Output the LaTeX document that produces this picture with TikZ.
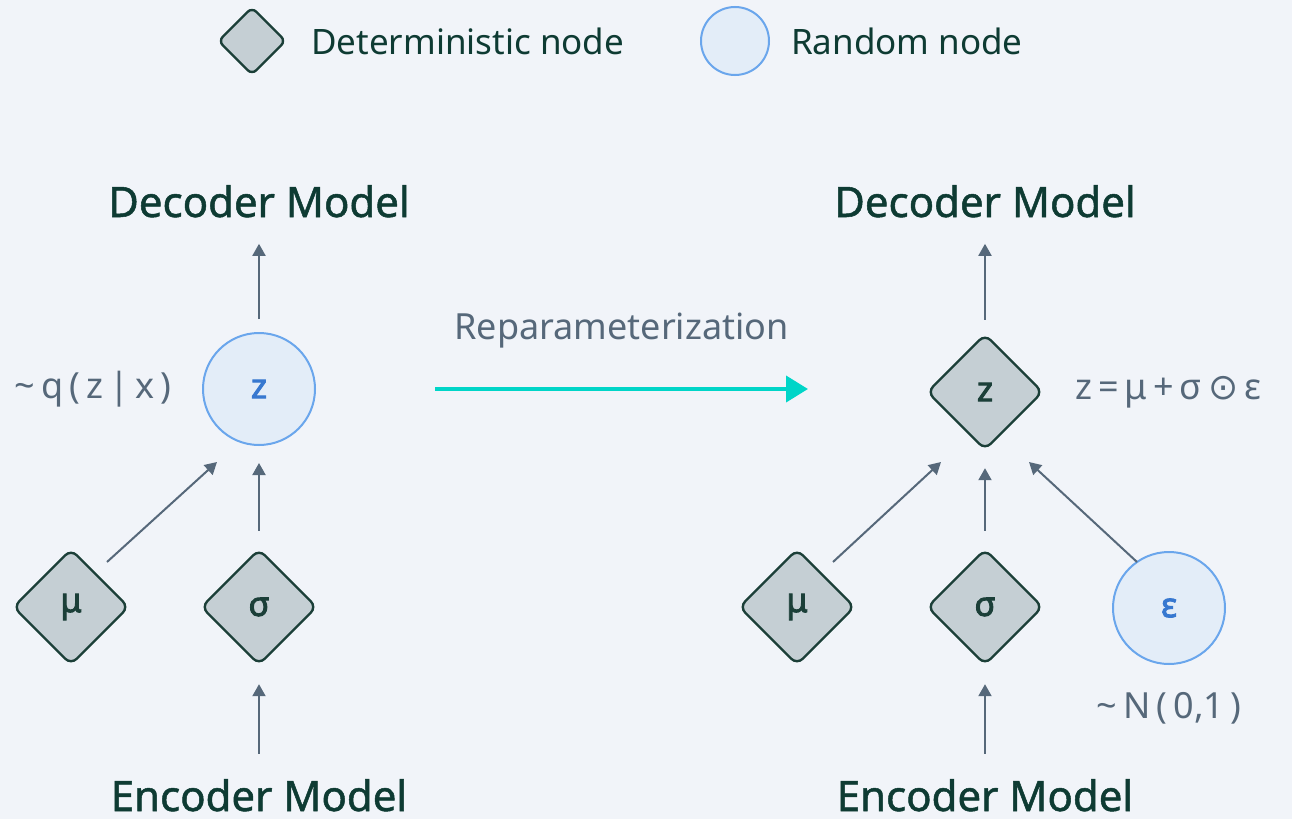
\documentclass[tikz,border=0pt]{standalone}
\usepackage{fontspec}
\setmainfont{Noto Sans}
\newfontfamily\medfont{Noto Sans}[FakeBold=1.2]
\newfontfamily\heavyfont{Noto Sans}[FakeBold=2.8]
\newfontfamily\symbolfont{DejaVu Sans}
\usetikzlibrary{positioning, arrows.meta, shapes.geometric}

\definecolor{bgcol}{HTML}{F1F4F9}
\definecolor{detfill}{HTML}{C5CFD4}
\definecolor{detline}{HTML}{1B3F38}
\definecolor{randfill}{HTML}{E3EDF8}
\definecolor{randline}{HTML}{6AA6EC}
\definecolor{randtext}{HTML}{3778D0}
\definecolor{titlecol}{HTML}{0E3B33}
\definecolor{graycol}{HTML}{56687A}
\definecolor{tealcol}{HTML}{00D5C8}

\tikzset{
  detnode/.style={diamond, aspect=1, draw=detline, fill=detfill, line width=1.2pt,
    rounded corners=4pt, minimum size=58pt, inner sep=0pt, text=detline,
    font=\heavyfont\fontsize{17}{17}\selectfont},
  randnode/.style={circle, draw=randline, fill=randfill, line width=1pt,
    minimum size=56pt, inner sep=0pt, text=randtext,
    font=\heavyfont\fontsize{17}{17}\selectfont},
  legtext/.style={text=titlecol, font=\fontsize{17.5}{20}\selectfont},
  modeltext/.style={text=titlecol, anchor=base, inner sep=0pt,
    font=\medfont\fontsize{21}{24}\selectfont},
  notetext/.style={text=graycol, font=\fontsize{18}{21}\selectfont},
  feed/.style={-{Triangle[length=6pt, width=6.5pt]}, graycol, line width=1pt},
  reparam/.style={-{Triangle[length=11pt, width=13pt]}, tealcol, line width=2pt}
}

\begin{document}
\begin{tikzpicture}[x=0.5pt, y=-0.5pt]

  % Background and page size.
  \fill[bgcol] (0,0) rectangle (1292,819);
  \useasboundingbox (0,0) rectangle (1292,819);

  % Legend.
  \node[detnode, minimum size=34pt, rounded corners=3pt] (legdet) at (252,41) {};
  \node[legtext, right=8.5pt of legdet] (legdettext) {Deterministic node};
  \node[randnode, minimum size=34pt] (legrand) at (735,41) {};
  \node[legtext, right=7pt of legrand] (legrandtext) {Random node};

  % Left: sampling z directly.
  \node[modeltext] (decl) at (259,217) {Decoder Model};
  \node[randnode] (zl) at (259,389) {z};
  \node[notetext, left=12pt of zl] (ql) {\textasciitilde\,q\,(\,z\,|\,x\,)};
  \node[detnode] (mul) at (71,607) {μ};
  \node[detnode] (sigl) at (259,607) {σ};
  \node[modeltext] (encl) at (259,811) {Encoder Model};

  \draw[feed, shorten <=6.5pt, shorten >=13pt] (zl) -- (decl);
  \draw[feed, shorten <=8.5pt, shorten >=8.5pt] (sigl) -- (zl);
  \draw[feed] ([shift={(36,-45)}]mul.center) -- ([shift={(-42,73)}]zl.center);
  \draw[feed, shorten <=12.5pt, shorten >=9pt] (encl) -- (sigl);

  % Reparameterization arrow.
  \coordinate (rs) at (435,389);
  \coordinate (re) at (808,389);
  \draw[reparam] (rs) -- node[notetext, above=16pt] (rtext) {Reparameterization} (re);

  % Right: z as a deterministic function of mu, sigma and eps.
  \node[modeltext] (decr) at (985,217) {Decoder Model};
  \node[detnode] (zr) at (985,392) {z};
  \node[notetext, right=12pt of zr] (formula)
    {z\,=\,μ\,+\,σ\,{\symbolfont ⊙}\,ε};
  \node[detnode] (mur) at (797,607) {μ};
  \node[detnode] (sigr) at (985,607) {σ};
  \node[randnode] (epsr) at (1169,608) {ε};
  \node[notetext, below=10pt of epsr] (noise) {\textasciitilde\,N\,(\,0,1\,)};
  \node[modeltext] (encr) at (985,811) {Encoder Model};

  \draw[feed, shorten <=6.5pt, shorten >=13pt] (zr) -- (decr);
  \draw[feed, shorten <=8.5pt, shorten >=8.5pt] (sigr) -- (zr);
  \draw[feed] ([shift={(36,-45)}]mur.center) -- ([shift={(-44,70)}]zr.center);
  \draw[feed] ([shift={(-32,-46)}]epsr.center) -- ([shift={(44,70)}]zr.center);
  \draw[feed, shorten <=12.5pt, shorten >=9pt] (encr) -- (sigr);

\end{tikzpicture}
\end{document}
